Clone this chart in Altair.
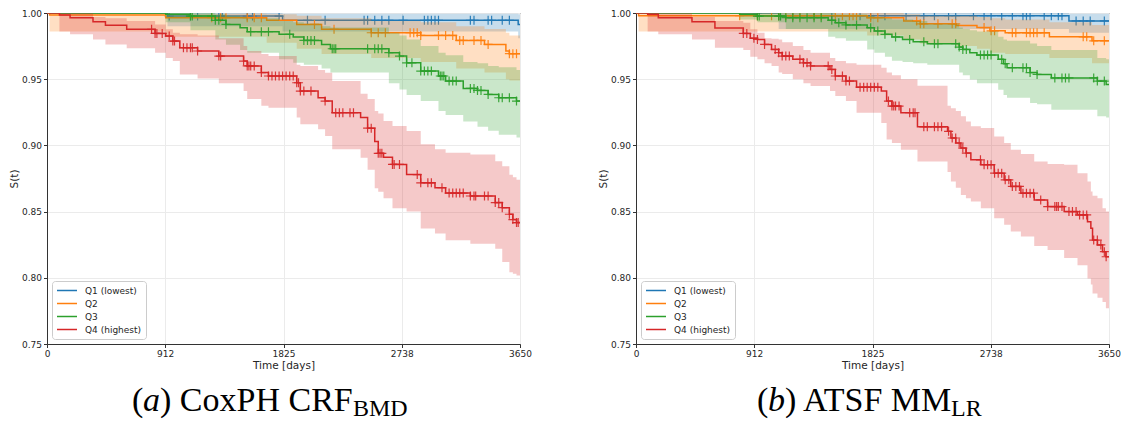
import altair as alt
import numpy as np
import pandas as pd

GROUPS = ["Q1 (lowest)", "Q2", "Q3", "Q4 (highest)"]
COLORS = ["#1f77b4", "#ff7f0e", "#2ca02c", "#d62728"]
X_TICKS = [0, 912, 1825, 2738, 3650]
Y_TICKS = [0.75, 0.80, 0.85, 0.90, 0.95, 1.00]
T_MAX = 3650

# ---------------- panel (a): CoxPH CRF_BMD ----------------
a_q1_t = [0, 930, 1818, 3636]
a_q1_s = [1.0, 0.9977, 0.9945, 0.9914]
a_q1_lo = [1.0, 0.990, 0.986, 0.981]
a_q1_hi = [1.0, 1.0, 0.9995, 0.999]
a_q1_cens = [943, 1107, 1162, 1326, 1353, 1545, 1586, 1791, 2010, 2146, 2447, 2474, 2529, 2584,
             2638, 2748, 2912, 2939, 2966, 2994, 3021, 3267, 3295, 3404, 3431, 3513, 3568]

a_q2_t = [0, 20, 916, 1695, 1927, 2119, 2502, 2884, 3158, 3376, 3541, 3568]
a_q2_s = [1.0, 0.9985, 0.9965, 0.9945, 0.9914, 0.9877, 0.9851, 0.9831, 0.9793, 0.9763, 0.9713, 0.9693]
a_q2_lo = [1.0, 0.986, 0.982, 0.9775, 0.973, 0.969, 0.966, 0.963, 0.958, 0.955, 0.950, 0.949]
a_q2_hi = [1.0, 1.0, 0.9995, 0.999, 0.998, 0.996, 0.994, 0.993, 0.990, 0.988, 0.985, 0.983]
a_q2_cens = [1271, 1340, 1381, 1545, 1599, 1654, 2064, 2215, 2502, 2556, 2611, 2802, 2830, 2857,
             2884, 3021, 3076, 3131, 3185, 3212, 3295, 3349, 3404, 3568, 3595, 3623]

a_q3_t = [0, 916, 1107, 1299, 1381, 1490, 1545, 1791, 1900, 1982, 2119, 2187, 2638, 2720, 2775,
          2884, 3021, 3076, 3212, 3322, 3404, 3486, 3623]
a_q3_s = [1.0, 0.999, 0.9977, 0.9945, 0.9914, 0.9889, 0.9859, 0.9839, 0.9819, 0.9793, 0.9763, 0.973,
          0.970, 0.9675, 0.9624, 0.9561, 0.9524, 0.9486, 0.943, 0.9415, 0.9385, 0.936, 0.9335]
a_q3_lo = [1.0, 0.993, 0.987, 0.980, 0.976, 0.972, 0.970, 0.965, 0.9625, 0.961, 0.958, 0.955,
           0.947, 0.9423, 0.938, 0.9335, 0.926, 0.923, 0.918, 0.914, 0.911, 0.908, 0.906]
a_q3_hi = [1.0, 1.0, 1.0, 0.999, 0.998, 0.997, 0.996, 0.994, 0.993, 0.992, 0.990, 0.989,
           0.985, 0.983, 0.980, 0.975, 0.970, 0.968, 0.963, 0.962, 0.960, 0.959, 0.957]
a_q3_cens = [1107, 1121, 1271, 1299, 1326, 1381, 1572, 1654, 1709, 1873, 1982, 2010, 2037, 2064,
             2201, 2215, 2228, 2474, 2529, 2556, 2584, 2638, 2720, 2775, 2816, 2884, 2912, 2939,
             2966, 3035, 3048, 3062, 3103, 3131, 3158, 3267, 3295, 3322, 3349, 3404, 3486, 3513,
             3568, 3623]

a_q4_t = [0, 96, 178, 355, 451, 615, 834, 916, 971, 1025, 1162, 1326, 1517, 1545, 1654, 1709,
          1927, 1955, 2092, 2146, 2201, 2420, 2474, 2529, 2556, 2597, 2666, 2775, 2884, 2994,
          3076, 3267, 3459, 3513, 3568, 3595, 3623]
a_q4_s = [1.0, 0.9985, 0.9965, 0.9934, 0.9907, 0.9877, 0.9846, 0.9826, 0.9788, 0.9738, 0.9713,
          0.9675, 0.9637, 0.960, 0.955, 0.9524, 0.9473, 0.941, 0.936, 0.9335, 0.9247, 0.921,
          0.913, 0.903, 0.894, 0.891, 0.8856, 0.878, 0.8717, 0.868, 0.864, 0.8618, 0.8568,
          0.853, 0.848, 0.844, 0.8417]
a_q4_lo = [1.0, 0.986, 0.984, 0.980, 0.9763, 0.9733, 0.970, 0.966, 0.9637, 0.9536, 0.9505,
           0.947, 0.941, 0.935, 0.930, 0.9284, 0.921, 0.916, 0.9122, 0.9071, 0.897, 0.8906,
           0.8817, 0.8677, 0.865, 0.860, 0.8525, 0.850, 0.8373, 0.8335, 0.8284, 0.8258, 0.822,
           0.8119, 0.8042, 0.803, 0.8017]
a_q4_hi = [1.0, 1.0, 1.0, 0.997, 0.996, 0.994, 0.9914, 0.9877, 0.985, 0.9839, 0.983, 0.981,
           0.975, 0.9713, 0.969, 0.9675, 0.961, 0.960, 0.957, 0.9549, 0.9486, 0.939, 0.935,
           0.926, 0.924, 0.9185, 0.9147, 0.9109, 0.9008, 0.897, 0.8944, 0.8931, 0.8881, 0.8843,
           0.8779, 0.876, 0.8741]
a_q4_cens = [807, 834, 848, 889, 943, 971, 984, 1053, 1080, 1107, 1121, 1162, 1326, 1340, 1517,
             1545, 1558, 1572, 1599, 1654, 1709, 1736, 1763, 1791, 1818, 1845, 1873, 1900, 1927,
             1941, 1955, 1982, 2037, 2146, 2228, 2256, 2283, 2338, 2365, 2474, 2502, 2556, 2570,
             2584, 2666, 2679, 2720, 2857, 2884, 2939, 2966, 3048, 3103, 3131, 3158, 3185, 3212,
             3267, 3295, 3308, 3376, 3404, 3459, 3486, 3513, 3568, 3595, 3623, 3636]

# ---------------- panel (b): ATSF MM_LR ----------------
b_q1_t = [0, 1101, 3341]
b_q1_s = [1.0, 0.998, 0.994]
b_q1_lo = [1.0, 0.988, 0.985]
b_q1_hi = [1.0, 1.0, 0.9995]
b_q1_cens = [937, 1101, 1115, 1210, 1374, 1511, 1729, 1811, 1921, 2084, 2221, 2303, 2412, 2467,
             2604, 2686, 2740, 2822, 2904, 2986, 3013, 3041, 3150, 3205, 3259, 3287, 3396, 3451,
             3505, 3614]

b_q2_t = [0, 20, 1784, 2066, 2194, 2471, 2631, 2731, 2849, 3190, 3519]
b_q2_s = [1.0, 0.998, 0.9965, 0.994, 0.9918, 0.9905, 0.989, 0.9865, 0.985, 0.982, 0.979]
b_q2_lo = [1.0, 0.986, 0.983, 0.980, 0.977, 0.975, 0.973, 0.970, 0.969, 0.966, 0.962]
b_q2_hi = [1.0, 1.0, 1.0, 0.999, 0.998, 0.998, 0.997, 0.996, 0.995, 0.993, 0.991]
b_q2_cens = [800, 937, 1046, 1101, 1156, 1210, 1265, 1374, 1429, 1538, 1593, 1647, 1675, 1702,
             1811, 1866, 2166, 2194, 2221, 2330, 2440, 2467, 2686, 2740, 2767, 2904, 2931, 3013,
             3041, 3068, 3095, 3150, 3451, 3478, 3532, 3614]

b_q3_t = [0, 800, 937, 1156, 1483, 1538, 1620, 1784, 1839, 1921, 1975, 2057, 2139, 2248, 2494,
          2522, 2576, 2631, 2795, 2836, 2863, 3041, 3095, 3205, 3560, 3628]
b_q3_s = [1.0, 0.999, 0.9977, 0.9965, 0.9945, 0.9927, 0.991, 0.9889, 0.9864, 0.9839, 0.9819,
          0.980, 0.9783, 0.9768, 0.9743, 0.9725, 0.970, 0.9682, 0.965, 0.9617, 0.9587, 0.955,
          0.9536, 0.951, 0.9486, 0.946]
b_q3_lo = [1.0, 0.995, 0.993, 0.988, 0.982, 0.981, 0.979, 0.9725, 0.970, 0.967, 0.964, 0.963,
           0.962, 0.961, 0.955, 0.953, 0.9498, 0.947, 0.942, 0.938, 0.936, 0.932, 0.931, 0.927,
           0.922, 0.921]
b_q3_hi = [1.0, 1.0, 1.0, 1.0, 1.0, 0.999, 0.999, 0.998, 0.997, 0.996, 0.995, 0.995, 0.994,
           0.992, 0.989, 0.988, 0.987, 0.986, 0.982, 0.980, 0.979, 0.977, 0.975, 0.972, 0.966,
           0.965]
b_q3_cens = [937, 951, 1101, 1115, 1156, 1210, 1265, 1320, 1374, 1429, 1511, 1565, 1620, 1702,
             1811, 1866, 1921, 2003, 2112, 2221, 2303, 2330, 2467, 2494, 2522, 2549, 2658, 2686,
             2713, 2740, 2822, 2849, 2904, 2986, 3013, 3041, 3095, 3232, 3287, 3314, 3341, 3532,
             3560, 3614]

b_q4_t = [0, 90, 172, 432, 609, 828, 882, 937, 992, 1046, 1101, 1128, 1210, 1292, 1347, 1497,
          1538, 1620, 1702, 1893, 1934, 1975, 2044, 2172, 2404, 2430, 2468, 2507, 2546, 2584,
          2661, 2764, 2841, 2892, 2970, 3073, 3176, 3304, 3407, 3484, 3510, 3523, 3561, 3600, 3626]
b_q4_s = [1.0, 0.999, 0.9965, 0.9934, 0.9887, 0.9846, 0.981, 0.980, 0.9763, 0.9725, 0.970,
          0.9675, 0.965, 0.9624, 0.960, 0.9574, 0.9524, 0.9486, 0.944, 0.941, 0.9335, 0.9297,
          0.9247, 0.914, 0.9106, 0.9056, 0.9018, 0.898, 0.8942, 0.8891, 0.8854, 0.879, 0.874,
          0.869, 0.8639, 0.8588, 0.8538, 0.850, 0.8475, 0.8424, 0.8374, 0.8285, 0.8248, 0.8197,
          0.8159]
b_q4_lo = [1.0, 0.986, 0.984, 0.980, 0.9738, 0.972, 0.967, 0.965, 0.962, 0.960, 0.955, 0.954,
           0.950, 0.947, 0.9448, 0.941, 0.9373, 0.9335, 0.9247, 0.917, 0.9045, 0.9018, 0.8967,
           0.8879, 0.880, 0.8727, 0.868, 0.8626, 0.860, 0.8576, 0.8525, 0.845, 0.840, 0.8349,
           0.8311, 0.824, 0.821, 0.815, 0.8095, 0.7995, 0.795, 0.7881, 0.785, 0.7818, 0.777]
b_q4_hi = [1.0, 1.0, 1.0, 0.997, 0.994, 0.9927, 0.9877, 0.985, 0.981, 0.9805, 0.980, 0.978,
           0.975, 0.972, 0.970, 0.966, 0.9637, 0.962, 0.961, 0.9587, 0.955, 0.953, 0.950, 0.945,
           0.930, 0.928, 0.926, 0.922, 0.918, 0.9144, 0.9131, 0.9068, 0.9018, 0.8967, 0.8935,
           0.8879, 0.886, 0.8854, 0.879, 0.8727, 0.8652, 0.862, 0.8601, 0.8525, 0.850]
b_q4_cens = [828, 855, 910, 937, 992, 1074, 1101, 1128, 1156, 1183, 1265, 1292, 1320, 1347, 1483,
             1511, 1538, 1593, 1620, 1647, 1729, 1757, 1784, 1811, 1839, 1866, 1948, 1975, 1989,
             2003, 2030, 2112, 2139, 2153, 2221, 2248, 2303, 2330, 2358, 2412, 2440, 2467, 2494,
             2522, 2549, 2658, 2686, 2713, 2740, 2767, 2795, 2822, 2849, 2877, 2904, 2931, 2959,
             2986, 3013, 3041, 3068, 3123, 3177, 3232, 3246, 3259, 3287, 3341, 3368, 3396, 3423,
             3451, 3478, 3532, 3560, 3587, 3614, 3628]

A_CURVES = [(a_q1_t, a_q1_s, a_q1_lo, a_q1_hi, a_q1_cens),
            (a_q2_t, a_q2_s, a_q2_lo, a_q2_hi, a_q2_cens),
            (a_q3_t, a_q3_s, a_q3_lo, a_q3_hi, a_q3_cens),
            (a_q4_t, a_q4_s, a_q4_lo, a_q4_hi, a_q4_cens)]
B_CURVES = [(b_q1_t, b_q1_s, b_q1_lo, b_q1_hi, b_q1_cens),
            (b_q2_t, b_q2_s, b_q2_lo, b_q2_hi, b_q2_cens),
            (b_q3_t, b_q3_s, b_q3_lo, b_q3_hi, b_q3_cens),
            (b_q4_t, b_q4_s, b_q4_lo, b_q4_hi, b_q4_cens)]

# caption pieces: (text, fontSize, italic, x offset from plot left, baseline below plot top)
A_CAPTION = [("(", 34, False, 85, 398), ("a", 34, True, 96, 398), (") CoxPH CRF", 34, False, 113, 398),
             ("BMD", 24, False, 306, 403)]
B_CAPTION = [("(", 34, False, 121, 398), ("b", 34, True, 132, 398), (") ATSF MM", 34, False, 149, 398),
             ("LR", 24, False, 315, 403)]

W, H = 473, 331
PLUS = "M0,-1L0,1M-1,0L1,0"

x_enc = alt.X("t:Q", scale=alt.Scale(domain=[0, T_MAX], nice=False, zero=False),
              axis=alt.Axis(values=X_TICKS, title="Time [days]", grid=True, format="d",
                            labelFlush=False))
y_scale = alt.Scale(domain=[0.75, 1.0], nice=False, zero=False)
y_axis = alt.Axis(values=Y_TICKS, title="S(t)", format=".2f", grid=True)


def panel(curves, caption):
    layers = []
    for g, col, (t, s, lo, hi, cens) in zip(GROUPS, COLORS, curves):
        df = pd.DataFrame({"t": list(t) + [T_MAX], "s": list(s) + [s[-1]],
                           "lo": list(lo) + [lo[-1]], "hi": list(hi) + [hi[-1]], "g": g})
        band = alt.Chart(df).mark_area(interpolate="step-after", color=col, opacity=0.25,
                                       clip=True).encode(
            x=x_enc, y=alt.Y("lo:Q", scale=y_scale, axis=y_axis), y2="hi:Q")
        line = alt.Chart(df).mark_line(interpolate="step-after", strokeWidth=1.5, clip=True).encode(
            x=x_enc, y=alt.Y("s:Q", scale=y_scale, axis=y_axis),
            color=alt.Color("g:N", scale=alt.Scale(domain=GROUPS, range=COLORS),
                            legend=alt.Legend(title=None, orient="bottom-left", offset=5,
                                              symbolType="stroke", symbolSize=400,
                                              symbolStrokeWidth=1.5, labelFontSize=9,
                                              labelFont="DejaVu Sans", labelColor="#262626",
                                              fillColor="white", strokeColor="#cccccc",
                                              cornerRadius=3, padding=4, rowPadding=2,
                                              clipHeight=11, labelOffset=7)))
        ta = np.asarray(t)
        idx = np.searchsorted(ta, np.asarray(cens), side="right") - 1
        cdf = pd.DataFrame({"t": cens, "s": np.asarray(s)[idx]})
        pts = alt.Chart(cdf).mark_point(shape=PLUS, filled=False, size=81, strokeWidth=1.2,
                                        color=col, opacity=0.9, clip=True).encode(
            x=x_enc, y=alt.Y("s:Q", scale=y_scale, axis=y_axis))
        layers += [band, line, pts]
    dummy = pd.DataFrame({"k": [0]})
    for txt, fs, it, xo, yo in caption:
        layers.append(alt.Chart(dummy).mark_text(
            text=txt, font="Liberation Serif", fontSize=fs, fontStyle="italic" if it else "normal",
            align="left", baseline="alphabetic", color="black").encode(
            x=alt.value(xo), y=alt.value(yo)))
    return alt.layer(*layers).properties(width=W, height=H)


chart = alt.hconcat(panel(A_CURVES, A_CAPTION), panel(B_CURVES, B_CAPTION),
                    spacing=116, bounds="flush").resolve_scale(color="independent").resolve_legend(
    color="independent").properties(padding={"left": 0, "top": 0, "right": 0, "bottom": 0}).configure_axis(
    labelFont="DejaVu Sans", labelFontSize=9, labelColor="#262626",
    titleFont="DejaVu Sans", titleFontSize=10.5, titleFontWeight="normal", titleColor="#262626",
    tickColor="#333333", domainColor="#333333", tickSize=3.5, labelPadding=2, titlePadding=2,
    gridColor="#ebebeb", gridWidth=1).configure_view(stroke="#333333", strokeWidth=1)

chart.save("out.html", embed_options={"renderer": "svg", "actions": False})
